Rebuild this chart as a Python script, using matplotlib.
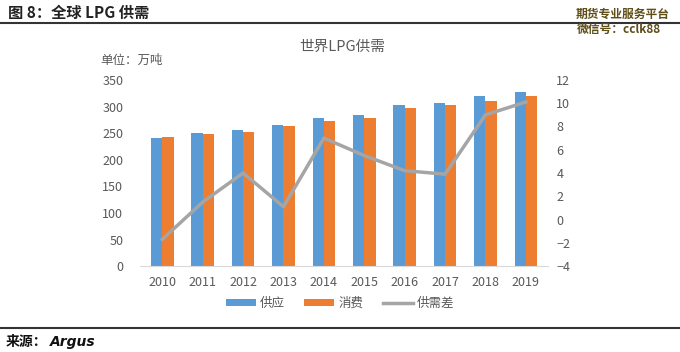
import matplotlib
matplotlib.use('Agg')
import matplotlib.pyplot as plt
import numpy as np

plt.rcParams['font.family'] = ['Noto Sans CJK SC', 'DejaVu Sans']

# data (万吨, gap on right axis)
years = ['2010', '2011', '2012', '2013', '2014', '2015', '2016', '2017', '2018', '2019']
supply = [241, 250, 256, 265, 278, 284, 302, 306, 320, 328]
consumption = [243, 248, 253, 264, 272, 279, 298, 303, 311, 320]
gap = [-1.7, 1.5, 4.0, 1.1, 7.0, 5.5, 4.2, 3.9, 9.0, 10.1]

blue = '#5B9BD5'
orange = '#ED7D31'
grey = '#A5A5A5'
tick_col = '#595959'

fig = plt.figure(figsize=(6.8, 3.52), dpi=100)
ax = fig.add_axes([0.206, 0.244, 0.600, 0.529])
ax2 = ax.twinx()

x = np.arange(len(years))
w = 0.28
ax.bar(x - w / 2, supply, w, color=blue, label='供应', zorder=2)
ax.bar(x + w / 2, consumption, w, color=orange, label='消费', zorder=2)
ax2.plot(x, gap, color=grey, lw=2.5, label='供需差', zorder=3)

ax.set_ylim(0, 350)
ax.set_yticks(range(0, 351, 50))
ax2.set_ylim(-4, 12)
ax2.set_yticks(range(-4, 13, 2))
ax.set_xlim(-0.55, len(years) - 0.45)
ax.set_xticks(x)
ax.set_xticklabels(years)

for a in (ax, ax2):
    for s in a.spines.values():
        s.set_visible(False)
    a.tick_params(length=0, labelsize=9, colors=tick_col)
ax.spines['bottom'].set_visible(True)
ax.spines['bottom'].set_color('#D9D9D9')
ax.tick_params(axis='y', pad=12)
ax.tick_params(axis='x', pad=7)
ax2.tick_params(axis='y', pad=6)

# legend
h1, l1 = ax.get_legend_handles_labels()
h2, l2 = ax2.get_legend_handles_labels()
fig.legend(h1 + h2, l1 + l2, loc='center', bbox_to_anchor=(0.5, 0.138), ncol=3,
           frameon=False, fontsize=9, labelcolor=tick_col, handlelength=2.4,
           handleheight=0.55, handletextpad=0.3, columnspacing=1.6)

# chart title and unit
fig.text(0.503, 0.866, '世界LPG供需', ha='center', va='center', fontsize=10.5, color=tick_col)
fig.text(0.147, 0.829, '单位：万吨', ha='left', va='center', fontsize=9, color=tick_col)

# report header / footer
fig.text(0.012, 0.962, '图 8：全球 LPG 供需', ha='left', va='center', fontsize=11,
         fontweight='bold', color='#222222')
fig.add_artist(plt.Line2D([0.0, 1.0], [0.935, 0.935], color='#333333', lw=1.5))
fig.text(0.985, 0.960, '期货专业服务平台', ha='right', va='center', fontsize=8.5,
         fontweight='bold', color='#5E4E18')
fig.text(0.972, 0.915, '微信号：cclk88', ha='right', va='center', fontsize=8.5,
         fontweight='bold', color='#5E4E18')
fig.add_artist(plt.Line2D([0.0, 1.0], [0.068, 0.068], color='#333333', lw=1.5))
fig.text(0.008, 0.028, '来源：', ha='left', va='center', fontsize=10,
         fontweight='bold', color='#111111')
fig.text(0.074, 0.028, 'Argus', ha='left', va='center', fontsize=10,
         fontweight='bold', fontstyle='italic', family='DejaVu Sans', color='#111111')

fig.savefig('out.png', dpi=100)
